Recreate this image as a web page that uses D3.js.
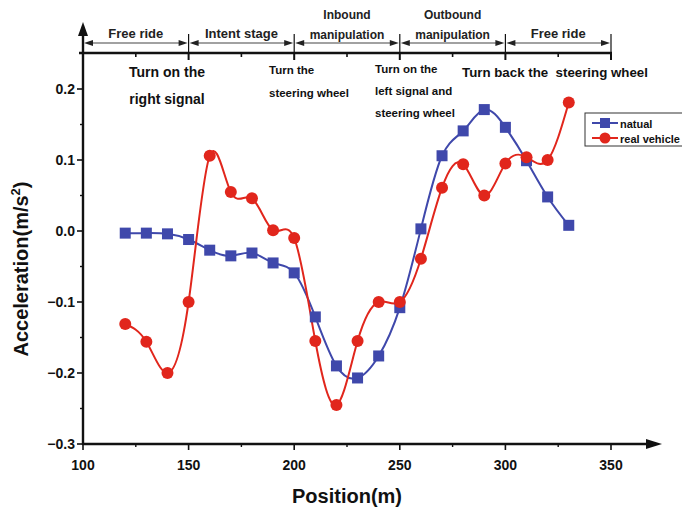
<!DOCTYPE html>
<html>
<head>
<meta charset="utf-8">
<script src="https://cdn.jsdelivr.net/npm/d3@7"></script>
<style>
  html, body { margin: 0; padding: 0; background: #fff; }
  svg { display: block; font-family: "Liberation Sans", Arial, sans-serif; font-weight: bold; }
</style>
</head>
<body>
<svg id="chart" width="682" height="513"></svg>
<script>
// Measured positions (m) and accelerations (m/s^2)
const positions = [120, 130, 140, 150, 160, 170, 180, 190, 200, 210, 220, 230, 240, 250, 260, 270, 280, 290, 300, 310, 320, 330];
const natualAccel = [-0.003, -0.003, -0.004, -0.012, -0.027, -0.035, -0.031, -0.045, -0.059, -0.121, -0.190, -0.207, -0.176, -0.108, 0.003, 0.106, 0.141, 0.171, 0.146, 0.099, 0.048, 0.008];
const realAccel = [-0.131, -0.156, -0.200, -0.100, 0.106, 0.055, 0.046, 0.001, -0.010, -0.155, -0.245, -0.155, -0.100, -0.100, -0.039, 0.061, 0.094, 0.050, 0.095, 0.104, 0.100, 0.181];

const seriesNames = ["natual", "real vehicle"];
const xTicks = [100, 150, 200, 250, 300, 350];
const yTicks = [-0.3, -0.2, -0.1, 0.0, 0.1, 0.2];

// Driving phases along the road
const phaseBounds = [[100, 150], [150, 200], [200, 250], [250, 300], [300, 350]];
const phaseLabels = [["Free ride"], ["Intent stage"], ["Inbound", "manipulation"], ["Outbound", "manipulation"], ["Free ride"]];

const svg = d3.select("#chart");
const x = d3.scaleLinear().domain([100, 350]).range([83, 611]);
const y = d3.scaleLinear().domain([-0.3, 0.2]).range([444, 89]);

const axisColor = "#111";
const blue = "#3f48ab";
const red = "#e1261c";

// ---------- Left axis with arrow ----------
const yTop = 22;
svg.append("line").attr("x1", x(100)).attr("x2", x(100)).attr("y1", y(-0.3) + 1).attr("y2", yTop + 10)
  .attr("stroke", axisColor).attr("stroke-width", 2.4);
svg.append("path")
  .attr("d", `M${x(100)},${yTop} L${x(100) - 5},${yTop + 14} L${x(100) + 5},${yTop + 14} Z`)
  .attr("fill", axisColor);

const yMinor = d3.range(-0.25, 0.2, 0.1);
svg.selectAll(".ytick").data(yTicks).join("line")
  .attr("x1", x(100) - 6).attr("x2", x(100)).attr("y1", d => y(d)).attr("y2", d => y(d))
  .attr("stroke", axisColor).attr("stroke-width", 1.6);
svg.selectAll(".yminor").data(yMinor).join("line")
  .attr("x1", x(100) - 3).attr("x2", x(100)).attr("y1", d => y(d)).attr("y2", d => y(d))
  .attr("stroke", axisColor).attr("stroke-width", 1.4);
svg.selectAll(".ylabel").data(yTicks).join("text")
  .attr("x", x(100) - 8).attr("y", d => y(d) + 5)
  .attr("text-anchor", "end").attr("font-size", 14).attr("fill", "#111")
  .text(d => d3.format(".1f")(d));

// ---------- Bottom axis with arrow ----------
const xEnd = 662;
svg.append("line").attr("x1", x(100) - 1).attr("x2", xEnd - 10).attr("y1", y(-0.3)).attr("y2", y(-0.3))
  .attr("stroke", axisColor).attr("stroke-width", 2.4);
svg.append("path")
  .attr("d", `M${xEnd},${y(-0.3)} L${xEnd - 16},${y(-0.3) - 5} L${xEnd - 16},${y(-0.3) + 5} Z`)
  .attr("fill", axisColor);
const xMinor = [125, 175, 225, 275, 325];
svg.selectAll(".xtick").data(xTicks).join("line")
  .attr("x1", d => x(d)).attr("x2", d => x(d)).attr("y1", y(-0.3)).attr("y2", y(-0.3) + 6)
  .attr("stroke", axisColor).attr("stroke-width", 1.6);
svg.selectAll(".xminor").data(xMinor).join("line")
  .attr("x1", d => x(d)).attr("x2", d => x(d)).attr("y1", y(-0.3)).attr("y2", y(-0.3) + 3)
  .attr("stroke", axisColor).attr("stroke-width", 1.4);
svg.selectAll(".xlabel").data(xTicks).join("text")
  .attr("x", d => x(d)).attr("y", 470)
  .attr("text-anchor", "middle").attr("font-size", 14).attr("fill", "#111")
  .text(d => d);

// Axis titles
svg.append("text").attr("x", 347).attr("y", 503).attr("text-anchor", "middle")
  .attr("font-size", 20).attr("fill", "#111").text("Position(m)");
const yt = svg.append("text").attr("transform", "translate(28,269) rotate(-90)")
  .attr("text-anchor", "middle").attr("font-size", 20).attr("fill", "#111");
yt.append("tspan").text("Acceleration(m/s");
yt.append("tspan").attr("font-size", 13).attr("dy", -8).text("2");
yt.append("tspan").attr("dy", 8).text(")");

// ---------- Top phase axis ----------
const topY = 53;
svg.append("line").attr("x1", x(100) - 4).attr("x2", x(350) + 1).attr("y1", topY).attr("y2", topY)
  .attr("stroke", axisColor).attr("stroke-width", 2.6);
svg.selectAll(".ttick").data(xTicks).join("line")
  .attr("x1", d => x(d)).attr("x2", d => x(d)).attr("y1", topY).attr("y2", topY + 7)
  .attr("stroke", axisColor).attr("stroke-width", 2);
svg.selectAll(".tminor").data(xMinor).join("line")
  .attr("x1", d => x(d)).attr("x2", d => x(d)).attr("y1", topY).attr("y2", topY + 4)
  .attr("stroke", axisColor).attr("stroke-width", 1.6);
svg.selectAll(".divider").data(xTicks.slice(1)).join("line")
  .attr("x1", d => x(d)).attr("x2", d => x(d)).attr("y1", 34).attr("y2", topY)
  .attr("stroke", axisColor).attr("stroke-width", 1.2);

// Double-headed arrows for each phase
const arrowY = 43;
const phaseColor = "#444";
phaseBounds.forEach(([a, b]) => {
  const xa = x(a) + 1, xb = x(b) - 1;
  svg.append("line").attr("x1", xa + 6).attr("x2", xb - 6).attr("y1", arrowY).attr("y2", arrowY)
    .attr("stroke", phaseColor).attr("stroke-width", 1.2);
  svg.append("path").attr("d", `M${xa},${arrowY} L${xa + 9},${arrowY - 3} L${xa + 9},${arrowY + 3} Z`).attr("fill", "#222");
  svg.append("path").attr("d", `M${xb},${arrowY} L${xb - 9},${arrowY - 3} L${xb - 9},${arrowY + 3} Z`).attr("fill", "#222");
});
phaseLabels.forEach((lines, i) => {
  const cx = x((phaseBounds[i][0] + phaseBounds[i][1]) / 2);
  const baseY = lines.length === 1 ? 38 : 39;
  lines.forEach((t, j) => {
    svg.append("text").attr("x", cx).attr("y", baseY - (lines.length - 1 - j) * 20)
      .attr("text-anchor", "middle").attr("font-size", lines.length === 1 ? 13 : 12).attr("fill", "#222").text(t);
  });
});

// Event annotations
const notes = [
  { x: 167, anchor: "middle", size: 14, lines: ["Turn on the", "right signal"], y0: 77, dy: 27 },
  { x: 269, anchor: "start", size: 11.5, lines: ["Turn the", "steering wheel"], y0: 74, dy: 23 },
  { x: 375, anchor: "start", size: 11.5, lines: ["Turn on the", "left signal and", "steering wheel"], y0: 73, dy: 22 },
  { x: 462, anchor: "start", size: 13.3, lines: ["Turn back the  steering wheel"], y0: 77, dy: 0 }
];
notes.forEach(n => {
  n.lines.forEach((t, j) => {
    svg.append("text").attr("x", n.x).attr("y", n.y0 + j * n.dy).attr("text-anchor", n.anchor)
      .attr("font-size", n.size).attr("fill", "#111").style("white-space", "pre").text(t);
  });
});

// ---------- Series ----------
const line = d3.line().x(d => x(d[0])).y(d => y(d[1])).curve(d3.curveNatural);
const natualPts = positions.map((p, i) => [p, natualAccel[i]]);
const realPts = positions.map((p, i) => [p, realAccel[i]]);

svg.append("path").datum(natualPts).attr("d", line).attr("fill", "none").attr("stroke", blue).attr("stroke-width", 2);
svg.append("path").datum(realPts).attr("d", line).attr("fill", "none").attr("stroke", red).attr("stroke-width", 2);

svg.selectAll(".sq").data(natualPts).join("rect")
  .attr("x", d => x(d[0]) - 5.5).attr("y", d => y(d[1]) - 5.5).attr("width", 11).attr("height", 11)
  .attr("fill", blue);
svg.selectAll(".ci").data(realPts).join("circle")
  .attr("cx", d => x(d[0])).attr("cy", d => y(d[1])).attr("r", 6)
  .attr("fill", red);

// ---------- Legend ----------
const lg = svg.append("g");
lg.append("rect").attr("x", 585).attr("y", 113).attr("width", 120).attr("height", 33)
  .attr("fill", "#fff").attr("stroke", "#333").attr("stroke-width", 1);
const legendRows = [{ name: seriesNames[0], color: blue, shape: "sq", yy: 123 }, { name: seriesNames[1], color: red, shape: "ci", yy: 138 }];
legendRows.forEach(r => {
  lg.append("line").attr("x1", 592).attr("x2", 618).attr("y1", r.yy).attr("y2", r.yy)
    .attr("stroke", r.color).attr("stroke-width", 2);
  if (r.shape === "sq") {
    lg.append("rect").attr("x", 600).attr("y", r.yy - 5).attr("width", 10).attr("height", 10).attr("fill", r.color);
  } else {
    lg.append("circle").attr("cx", 605).attr("cy", r.yy).attr("r", 5.5).attr("fill", r.color);
  }
  lg.append("text").attr("x", 620).attr("y", r.yy + 4.5).attr("font-size", 11).attr("fill", "#111").text(r.name);
});
</script>
</body>
</html>
